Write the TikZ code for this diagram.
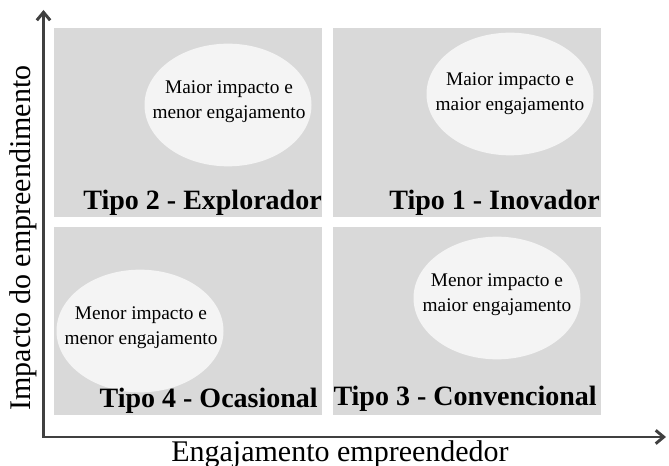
\documentclass[tikz,border=0pt]{standalone}
\usepackage{fontspec}
\setmainfont{Liberation Serif}
\usetikzlibrary{arrows.meta,positioning,shapes.geometric}
\definecolor{quadgray}{RGB}{217,217,217}
\definecolor{ovalgray}{RGB}{244,244,244}
\definecolor{axisgray}{RGB}{64,64,64}
\tikzset{
  quadrant/.style={rectangle, fill=quadgray, minimum width=201pt, minimum height=141.5pt, inner sep=0pt},
  oval/.style={ellipse, fill=ovalgray, minimum width=125.25pt, minimum height=92pt, inner sep=0pt},
  ovaltext/.style={align=center, inner sep=0pt, font=\fontsize{14.5}{19}\selectfont},
  tipo/.style={font=\fontsize{21}{24}\selectfont\bfseries, inner sep=0pt},
  axislabel/.style={font=\fontsize{22.5}{26}\selectfont, inner sep=0pt},
  axis/.style={draw=axisgray, line width=2.2pt, {Straight Barb[length=6pt,width=10pt]}-{Straight Barb[length=6pt,width=10pt]}},
}

\begin{document}
\begin{tikzpicture}[x=0.75pt,y=0.75pt,yscale=-1,xscale=1]
\useasboundingbox (0,0) rectangle (669,466);
%Quadrants
\node[quadrant] (q2) at (188,122.5) {};
\node[quadrant] (q1) at (467,122.5) {};
\node[quadrant] (q4) at (188,321) {};
\node[quadrant] (q3) at (467,321) {};
%Ovals
\node[oval] (o2) at (228,105) {};
\node[oval] (o1) at (510,94) {};
\node[oval] (o4) at (140,331) {};
\node[oval] (o3) at (497,298) {};
\node[ovaltext] (o2text) at (229,102) {Maior impacto e\\menor engajamento};
\node[ovaltext] (o1text) at (510,94) {Maior impacto e\\maior engajamento};
\node[ovaltext] (o4text) at (141,328) {Menor impacto e\\menor engajamento};
\node[ovaltext] (o3text) at (497,295) {Menor impacto e\\maior engajamento};
%Type labels
\node[tipo, anchor=east] (t2) at (322,203) {Tipo 2 - Explorador};
\node[tipo, anchor=east] (t1) at (600,203) {Tipo 1 - Inovador};
\node[tipo, anchor=east] (t4) at (318,401) {Tipo 4 - Ocasional};
\node[tipo, anchor=east] (t3) at (597,399) {Tipo 3 - Convencional};
%Axes
\coordinate (origin) at (43.5,437);
\coordinate (ytip) at (43.5,10);
\coordinate (xtip) at (666,437);
\draw[axis] (ytip) -- (origin) -- (xtip);
\node[axislabel, rotate=90] (ylab) at (23,238) {Impacto do empreendimento};
\node[axislabel] (xlab) at (340,454) {Engajamento empreendedor};
\end{tikzpicture}
\end{document}
